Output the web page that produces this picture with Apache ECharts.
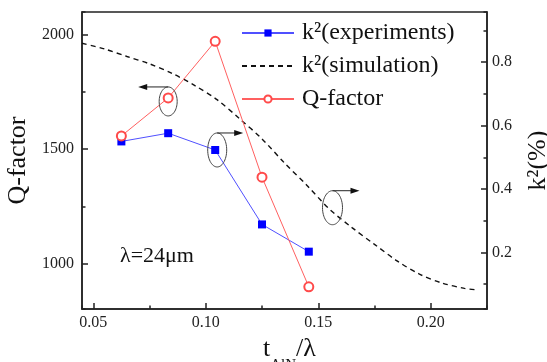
<!DOCTYPE html>
<html><head><meta charset="utf-8">
<script src="https://cdn.jsdelivr.net/npm/echarts@6/dist/echarts.min.js"></script>
<style>html,body{margin:0;padding:0;background:#fff}#c{width:547px;height:362px}</style>
</head><body><div id="c"></div>
<script>
// ---- data ----
const tRatio = [0.0625, 0.0833, 0.1042, 0.125, 0.1458];
const k2Exp = [0.550, 0.576, 0.523, 0.288, 0.202];
const qFactor = [1557, 1723, 1970, 1377, 899];
const simX = [0.045, 0.055, 0.065, 0.075, 0.085, 0.095, 0.105, 0.115, 0.125, 0.135, 0.145, 0.155, 0.165, 0.175, 0.185, 0.195, 0.205, 0.215, 0.220];
const simK2 = [0.860, 0.842, 0.818, 0.795, 0.765, 0.727, 0.682, 0.622, 0.558, 0.482, 0.411, 0.336, 0.278, 0.225, 0.173, 0.131, 0.103, 0.086, 0.082];
const xTickLabels = ['0.05', '0.10', '0.15', '0.20'];
const qTickLabels = ['1000', '1500', '2000'];
const kTickLabels = ['0.2', '0.4', '0.6', '0.8'];
const seriesNames = ['k\u00B2(experiments)', 'k\u00B2(simulation)', 'Q-factor'];

const serif = "'Liberation Serif', 'Times New Roman', serif";
const ink = '#222';
const chart = echarts.init(document.getElementById('c'), null, {renderer: 'canvas'});

function lbl(list, dec) {
  return v => { const s = v.toFixed(dec); return list.includes(s) ? s : ''; };
}
const mainTick = {show: true, inside: true, length: 6, lineStyle: {color: ink, width: 1.5}};
const minorTick = {show: true, inside: true, length: 3.5, lineStyle: {color: ink, width: 1.5}};
const labelStyle = {fontFamily: serif, fontSize: 16, color: ink, showMinLabel: false, showMaxLabel: false};

const option = {
  animation: false,
  backgroundColor: '#fff',
  grid: {left: 82, right: 60, top: 12, bottom: 53, containLabel: false, outerBoundsMode: 'none',
         show: true, borderColor: ink, borderWidth: 1.5, backgroundColor: 'transparent'},
  legend: {
    orient: 'vertical', left: 236, top: 16, itemWidth: 52, itemHeight: 9, itemGap: 9,
    textStyle: {fontFamily: serif, fontSize: 24, color: '#111', padding: [0, 0, 0, 3]},
    data: [seriesNames[0], {name: seriesNames[1], itemStyle: {opacity: 0}}, seriesNames[2]]
  },
  xAxis: [
    {type: 'value', min: 0.045, max: 0.225, minInterval: 0.05, maxInterval: 0.05, position: 'bottom',
     axisLine: {show: true, onZero: false, lineStyle: {color: ink, width: 1.5}},
     axisTick: mainTick, splitLine: {show: false},
     axisLabel: Object.assign({margin: 6, formatter: lbl(xTickLabels, 2)}, labelStyle),
     name: '{t|t}{s|AlN}{t|/\u03BB}', nameLocation: 'middle', nameGap: 21,
     nameTextStyle: {fontFamily: serif, fontSize: 26, color: '#111', padding: [0, 0, 0, 10],
       rich: {t: {fontFamily: serif, fontSize: 26, color: '#111', lineHeight: 26, verticalAlign: 'top'},
              s: {fontFamily: serif, fontSize: 15, color: '#111', lineHeight: 15, verticalAlign: 'top', padding: [22, 0, 0, 0]}}}
    },
    {type: 'value', min: 0.045, max: 0.225, minInterval: 0.025, maxInterval: 0.025, position: 'bottom', offset: 0,
     axisLine: {show: false}, axisTick: minorTick, axisLabel: {show: false}, splitLine: {show: false}}
  ],
  yAxis: [
    {type: 'value', min: 802, max: 2098, minInterval: 500, maxInterval: 500, position: 'left',
     axisLine: {show: true, onZero: false, lineStyle: {color: ink, width: 1.5}},
     axisTick: mainTick, splitLine: {show: false},
     axisLabel: Object.assign({margin: 8, formatter: lbl(qTickLabels, 0)}, labelStyle),
     name: 'Q-factor', nameLocation: 'middle', nameGap: 44,
     nameTextStyle: {fontFamily: serif, fontSize: 26, color: '#111'}
    },
    {type: 'value', min: 0.021, max: 0.9586, minInterval: 0.2, maxInterval: 0.2, position: 'right',
     axisLine: {show: true, onZero: false, lineStyle: {color: ink, width: 1.5}},
     axisTick: mainTick, splitLine: {show: false},
     axisLabel: Object.assign({margin: 5, formatter: lbl(kTickLabels, 1)}, labelStyle),
     name: 'k\u00B2(%)', nameLocation: 'middle', nameGap: 38,
     nameTextStyle: {fontFamily: serif, fontSize: 26, color: '#111'}
    },
    {type: 'value', min: 802, max: 2098, minInterval: 250, maxInterval: 250, position: 'left', offset: 0,
     axisLine: {show: false}, axisTick: minorTick, axisLabel: {show: false}, splitLine: {show: false}},
    {type: 'value', min: 0.021, max: 0.9586, minInterval: 0.1, maxInterval: 0.1, position: 'right', offset: 0,
     axisLine: {show: false}, axisTick: minorTick, axisLabel: {show: false}, splitLine: {show: false}}
  ],
  series: [
    {name: seriesNames[0], type: 'line', xAxisIndex: 0, yAxisIndex: 1,
     data: tRatio.map((x, i) => [x, k2Exp[i]]),
     symbol: 'rect', symbolSize: 8, itemStyle: {color: '#0000ff'},
     lineStyle: {color: '#5050ff', width: 1}, z: 4},
    {name: seriesNames[1], type: 'line', xAxisIndex: 0, yAxisIndex: 1,
     data: simX.map((x, i) => [x, simK2[i]]),
     symbol: 'none', smooth: 0.3, itemStyle: {color: '#111'},
     lineStyle: {color: '#111', width: 1.4, type: [5, 4]}, z: 3},
    {name: seriesNames[2], type: 'line', xAxisIndex: 0, yAxisIndex: 0,
     data: tRatio.map((x, i) => [x, qFactor[i]]),
     symbol: 'emptyCircle', symbolSize: 9, itemStyle: {color: '#ff4a4a', borderWidth: 1.2},
     lineStyle: {color: '#ff6060', width: 1}, z: 5}
  ]
};
chart.setOption(option);

// ---- annotations (ellipses + arrows), anchored to data via the chart's scales ----
function ellipsePts(cx, cy, rx, ry) {
  const pts = [];
  for (let i = 0; i < 60; i++) { const a = i / 60 * Math.PI * 2; pts.push([cx + rx * Math.cos(a), cy + ry * Math.sin(a)]); }
  return pts;
}
function annot(anchor, dx, dy, rx, ry, dir, len) {
  const cx = anchor[0] + dx, cy = anchor[1] + dy;
  const sx = cx, sy = cy - ry;
  const ex = sx + dir * len;
  return [
    {type: 'polygon', shape: {points: ellipsePts(cx, cy, rx, ry)}, style: {fill: 'none', stroke: '#444', lineWidth: 1}, z: 10},
    {type: 'line', shape: {x1: sx, y1: sy, x2: ex - dir * 6, y2: sy}, style: {stroke: '#222', lineWidth: 1}, z: 10},
    {type: 'polygon', shape: {points: [[ex, sy], [ex - dir * 9, sy - 3], [ex - dir * 9, sy + 3]]}, style: {fill: '#111'}, z: 10}
  ];
}
const pQ = chart.convertToPixel({xAxisIndex: 0, yAxisIndex: 0}, [tRatio[1], qFactor[1]]);
const pK = chart.convertToPixel({xAxisIndex: 0, yAxisIndex: 1}, [tRatio[2], k2Exp[2]]);
const pS = chart.convertToPixel({xAxisIndex: 0, yAxisIndex: 1}, [simX[11], simK2[11]]);
const g = [].concat(
  annot(pQ, 0, 3.5, 9, 14.5, -1, 30),
  annot(pK, 2, 0, 9.5, 17, 1, 26),
  annot(pS, 3, -1.5, 10, 17, 1, 27),
  [{type: 'text', left: 120, top: 245, z: 10,
    style: {text: '\u03BB=24\u03BCm', font: "22px 'Liberation Serif'", fill: '#111'}}]
);
chart.setOption({graphic: g});
</script></body></html>
